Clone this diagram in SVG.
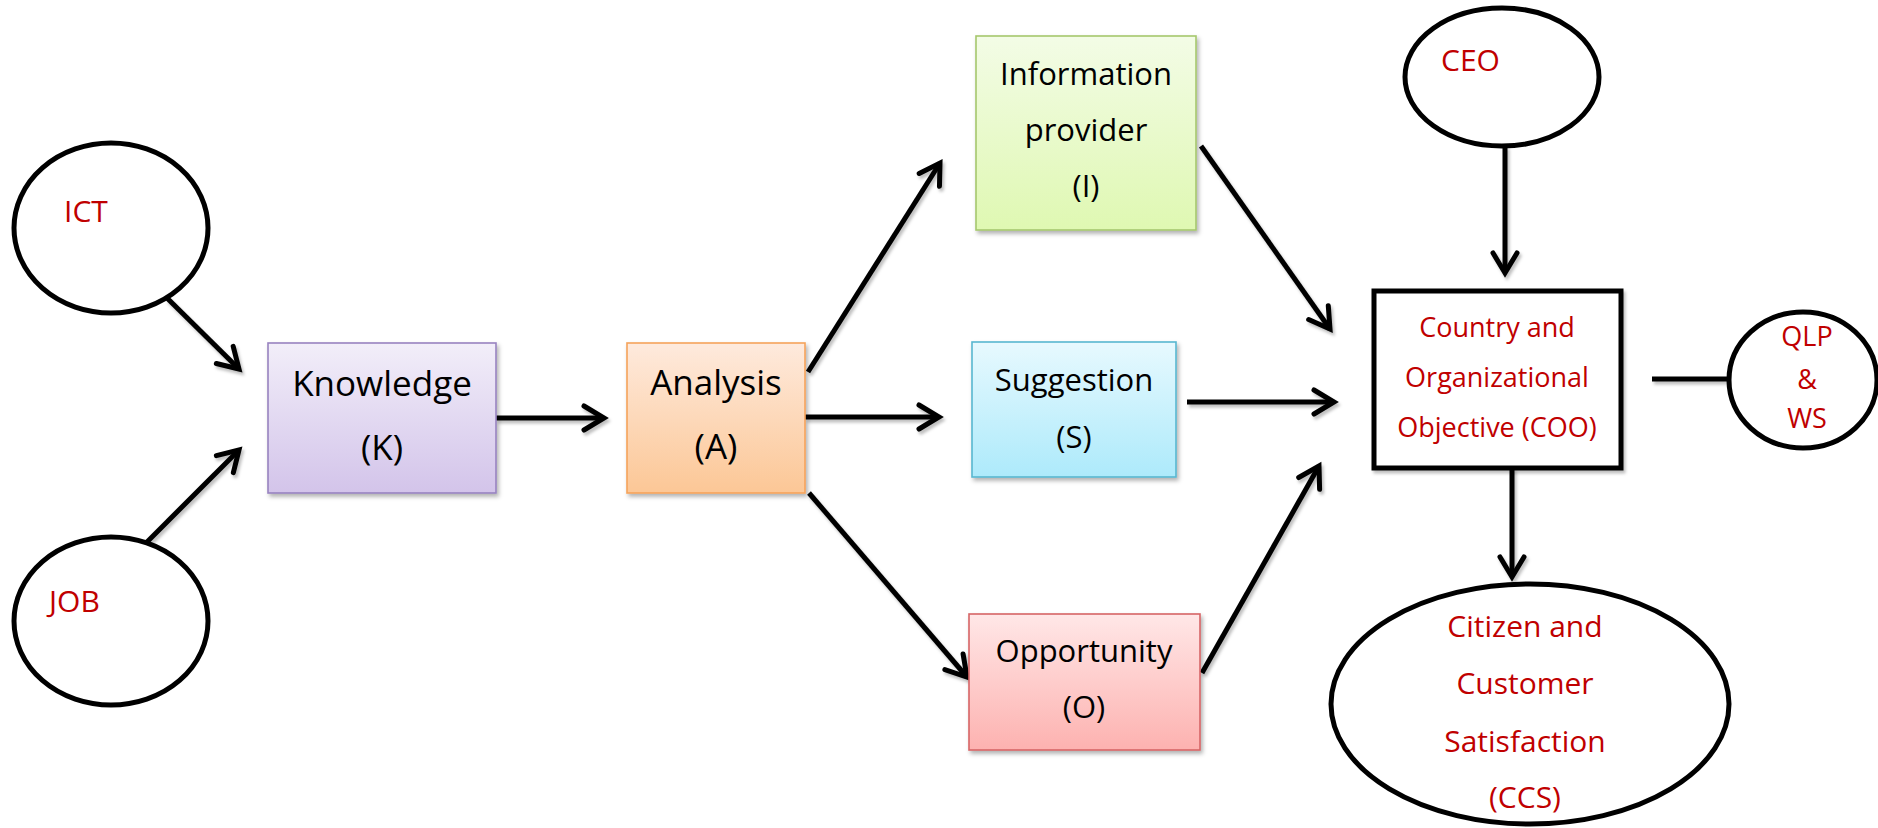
<svg xmlns="http://www.w3.org/2000/svg" width="1878" height="828" viewBox="0 0 1878 828">
<defs>
<style>
.ell{fill:#fff;stroke:#000;stroke-width:5}
.box{stroke-width:1.6;filter:url(#sh)}
.bt{font-family:"Open Sans","Noto Sans",sans-serif;fill:#000;text-anchor:middle}
.rt{font-family:"Open Sans","Noto Sans",sans-serif;fill:#c00000}
.rtm{font-family:"Open Sans","Noto Sans",sans-serif;fill:#c00000;text-anchor:middle}
.con line{stroke:#000;stroke-width:5;marker-end:url(#ah)}
</style>
<filter id="sh" x="-10%" y="-10%" width="130%" height="130%">
<feDropShadow dx="2" dy="3" stdDeviation="2" flood-color="#000" flood-opacity="0.3"/>
</filter>
<filter id="lsh" x="-20%" y="-20%" width="140%" height="140%">
<feDropShadow dx="2" dy="3" stdDeviation="1.5" flood-color="#000" flood-opacity="0.25"/>
</filter>
<marker id="ah" markerUnits="userSpaceOnUse" markerWidth="40" markerHeight="40" viewBox="-30 -20 40 40" refX="0" refY="0" orient="auto" overflow="visible">
<path d="M-20,-12 L0,0 L-20,12" fill="none" stroke="#000" stroke-width="5" stroke-linecap="round" stroke-linejoin="miter"/>
</marker>
<linearGradient id="gK" x1="0" y1="0" x2="0" y2="1"><stop offset="0" stop-color="#f2eef9"/><stop offset="1" stop-color="#d3c4ea"/></linearGradient>
<linearGradient id="gA" x1="0" y1="0" x2="0" y2="1"><stop offset="0" stop-color="#feeadd"/><stop offset="1" stop-color="#fcc796"/></linearGradient>
<linearGradient id="gI" x1="0" y1="0" x2="0" y2="1"><stop offset="0" stop-color="#f3fce6"/><stop offset="1" stop-color="#dff8b2"/></linearGradient>
<linearGradient id="gS" x1="0" y1="0" x2="0" y2="1"><stop offset="0" stop-color="#e7f9fe"/><stop offset="1" stop-color="#adeafb"/></linearGradient>
<linearGradient id="gO" x1="0" y1="0" x2="0" y2="1"><stop offset="0" stop-color="#ffe7e7"/><stop offset="1" stop-color="#fdb2b0"/></linearGradient>
</defs>
<rect width="1878" height="828" fill="#fff"/>

<g id="connectors" class="con" filter="url(#lsh)">
<line x1="167" y1="298" x2="239" y2="369"/>
<line x1="147" y1="542" x2="239" y2="450"/>
<line x1="496" y1="418" x2="604" y2="418"/>
<line x1="808" y1="372" x2="940" y2="163"/>
<line x1="805" y1="417" x2="939" y2="417"/>
<line x1="809" y1="493" x2="967" y2="677"/>
<line x1="1201" y1="146" x2="1330" y2="329"/>
<line x1="1187" y1="402" x2="1334" y2="402"/>
<line x1="1202" y1="673" x2="1319" y2="466"/>
<line x1="1505" y1="146" x2="1505" y2="273"/>
<line x1="1512" y1="468" x2="1512" y2="577"/>
<line x1="1652" y1="379" x2="1728" y2="379" style="marker-end:none"/>
</g>

<g id="ict">
<ellipse class="ell" cx="111" cy="228" rx="97" ry="85"/>
<text class="rt" x="64" y="222" font-size="30">ICT</text>
</g>
<g id="job">
<ellipse class="ell" cx="111" cy="621" rx="97" ry="84"/>
<text class="rt" x="49" y="612" font-size="30">JOB</text>
</g>
<g id="knowledge">
<rect class="box" x="268" y="343" width="228" height="150" fill="url(#gK)" stroke="#9883c0"/>
<text class="bt" x="382" y="396" font-size="35">Knowledge</text>
<text class="bt" x="382" y="460" font-size="35">(K)</text>
</g>
<g id="analysis">
<rect class="box" x="627" y="343" width="178" height="150" fill="url(#gA)" stroke="#f5a35a"/>
<text class="bt" x="716" y="395" font-size="35">Analysis</text>
<text class="bt" x="716" y="459" font-size="35">(A)</text>
</g>
<g id="information">
<rect class="box" x="976" y="36" width="220" height="194" fill="url(#gI)" stroke="#a6c76d"/>
<text class="bt" x="1086" y="85" font-size="31">Information</text>
<text class="bt" x="1086" y="141" font-size="31">provider</text>
<text class="bt" x="1086" y="197" font-size="31">(I)</text>
</g>
<g id="suggestion">
<rect class="box" x="972" y="342" width="204" height="135" fill="url(#gS)" stroke="#58b7d0"/>
<text class="bt" x="1074" y="391" font-size="31">Suggestion</text>
<text class="bt" x="1074" y="448" font-size="31">(S)</text>
</g>
<g id="opportunity">
<rect class="box" x="969" y="614" width="231" height="136" fill="url(#gO)" stroke="#d66567"/>
<text class="bt" x="1084" y="662" font-size="31">Opportunity</text>
<text class="bt" x="1084" y="718" font-size="31">(O)</text>
</g>
<g id="ceo">
<ellipse class="ell" cx="1502" cy="77" rx="97" ry="69"/>
<text class="rt" x="1441" y="71" font-size="30">CEO</text>
</g>
<g id="coo">
<rect x="1374" y="291" width="247" height="177" fill="#fff" stroke="#000" stroke-width="5" filter="url(#lsh)"/>
<text class="rtm" x="1497" y="337" font-size="27">Country and</text>
<text class="rtm" x="1497" y="387" font-size="27">Organizational</text>
<text class="rtm" x="1497" y="437" font-size="27">Objective (COO)</text>
</g>
<g id="qlp">
<ellipse class="ell" cx="1803" cy="380" rx="74" ry="68"/>
<text class="rtm" x="1807" y="346" font-size="27">QLP</text>
<text class="rtm" x="1807" y="389" font-size="27">&amp;</text>
<text class="rtm" x="1807" y="428" font-size="27">WS</text>
</g>
<g id="ccs">
<ellipse class="ell" cx="1530" cy="704" rx="199" ry="120"/>
<text class="rtm" x="1525" y="637" font-size="30">Citizen and</text>
<text class="rtm" x="1525" y="694" font-size="30">Customer</text>
<text class="rtm" x="1525" y="752" font-size="30">Satisfaction</text>
<text class="rtm" x="1525" y="808" font-size="30">(CCS)</text>
</g>
</svg>
